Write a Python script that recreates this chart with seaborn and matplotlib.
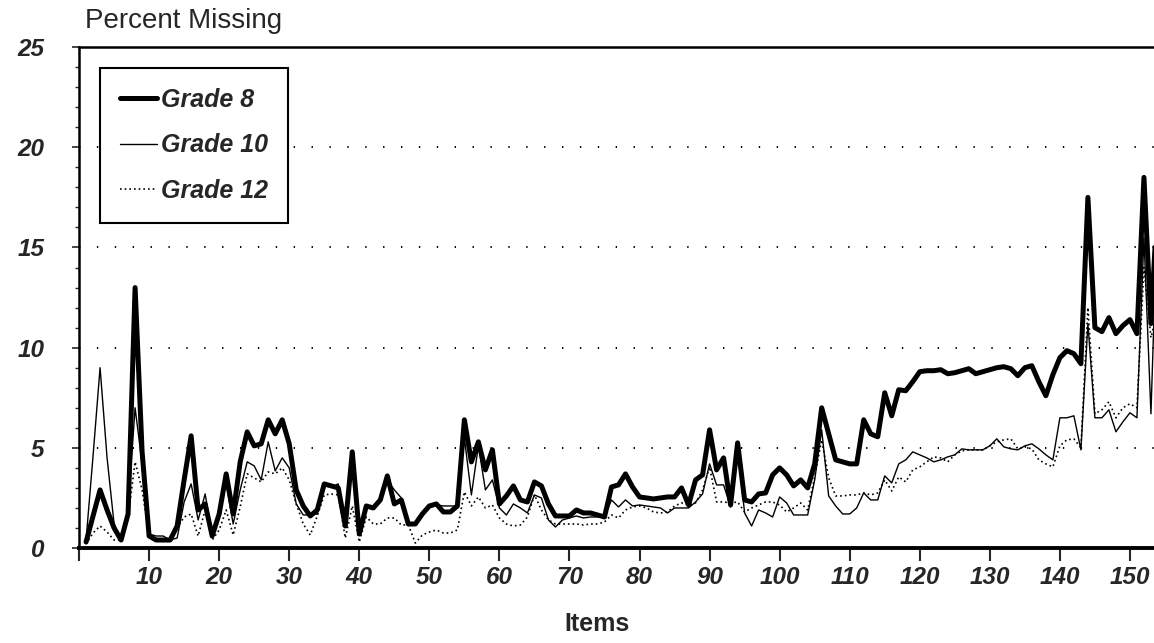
import numpy as np
import pandas as pd
import matplotlib
matplotlib.use("Agg")
import matplotlib.pyplot as plt
import seaborn as sns

# Percent missing per item
items = list(range(1, 155))

grade8 = [0.3, 1.6, 2.9, 1.9, 1.0, 0.4, 1.7, 13.0, 4.8, 0.6,
          0.4, 0.4, 0.4, 1.1, 3.4, 5.6, 1.9, 2.2, 0.6, 1.7,
          3.7, 1.7, 4.3, 5.8, 5.1, 5.2, 6.4, 5.7, 6.4, 5.2,
          2.9, 2.1, 1.6, 1.9, 3.2, 3.1, 3.0, 1.1, 4.8, 0.7,
          2.1, 2.0, 2.4, 3.6, 2.2, 2.4, 1.2, 1.2, 1.7, 2.1,
          2.2, 1.8, 1.8, 2.1, 6.4, 4.3, 5.3, 3.9, 4.9, 2.2,
          2.6, 3.1, 2.4, 2.3, 3.3, 3.1, 2.2, 1.6, 1.6, 1.6,
          1.9, 1.75, 1.75, 1.65, 1.55, 3.05, 3.15, 3.7, 3.05, 2.55,
          2.5, 2.45, 2.5, 2.55, 2.55, 3.0, 2.15, 3.4, 3.65, 5.9,
          3.9, 4.5, 2.15, 5.25, 2.4, 2.3, 2.7, 2.75, 3.65, 4.0,
          3.65, 3.1, 3.4, 3.0, 4.2, 7.0, 5.7, 4.4, 4.3, 4.2,
          4.2, 6.4, 5.7, 5.55, 7.75, 6.6, 7.9, 7.85, 8.3, 8.8,
          8.85, 8.85, 8.9, 8.7, 8.75, 8.85, 8.95, 8.7, 8.8, 8.9,
          9.0, 9.05, 8.95, 8.6, 9.0, 9.1, 8.3, 7.6, 8.65, 9.5,
          9.85, 9.7, 9.2, 17.5, 11.0, 10.8, 11.5, 10.7, 11.1, 11.4,
          10.7, 18.5, 11.2, 17.8]

grade10 = [0.4, 4.6, 9.0, 4.5, 1.2, 0.4, 2.0, 7.0, 4.2, 0.7,
           0.6, 0.6, 0.4, 0.5, 2.3, 3.2, 1.4, 2.7, 0.65, 1.9,
           3.2, 1.2, 2.9, 4.3, 4.1, 3.4, 5.3, 3.85, 4.5, 4.0,
           2.2, 1.65, 1.65, 1.7, 3.1, 3.05, 3.2, 1.2, 4.4, 1.1,
           2.1, 2.0, 2.3, 3.4, 2.9, 2.5, 1.2, 1.2, 1.65, 2.0,
           2.15, 2.1, 2.1, 2.1, 5.5, 2.65, 5.1, 2.9, 3.4, 2.0,
           1.65, 2.2, 2.0, 1.75, 2.65, 2.5, 1.4, 1.05, 1.4, 1.5,
           1.6, 1.5, 1.55, 1.55, 1.55, 2.4, 2.05, 2.4, 2.1, 2.15,
           2.1, 2.05, 2.0, 1.75, 2.0, 2.0, 2.0, 2.3, 2.7, 4.2,
           3.15, 3.15, 2.05, 5.0, 1.75, 1.1, 1.9, 1.75, 1.55, 2.55,
           2.25, 1.65, 1.65, 1.65, 3.4, 5.9, 2.6, 2.1, 1.7, 1.7,
           2.0, 2.75, 2.4, 2.4, 3.6, 3.25, 4.2, 4.4, 4.8, 4.65,
           4.5, 4.3, 4.4, 4.55, 4.65, 4.95, 4.9, 4.9, 4.9, 5.1,
           5.45, 5.05, 4.95, 4.9, 5.1, 5.2, 4.95, 4.65, 4.4, 6.5,
           6.5, 6.6, 4.9, 11.2, 6.5, 6.5, 6.9, 5.8, 6.3, 6.75,
           6.5, 15.5, 6.7, 17.8]

grade12 = [0.2, 0.75, 1.1, 0.8, 0.4, 0.4, 1.5, 4.3, 2.9, 0.6,
           0.4, 0.4, 0.3, 1.0, 1.55, 1.7, 0.6, 1.9, 0.4, 0.9,
           1.9, 0.65, 2.05, 3.7, 3.5, 3.3, 3.8, 3.7, 4.0, 3.4,
           2.2, 1.2, 0.65, 1.6, 2.65, 2.7, 2.65, 0.5, 2.1, 0.3,
           1.55, 1.2, 1.2, 1.5, 1.5, 1.15, 1.15, 0.25, 0.65, 0.8,
           0.9, 0.75, 0.75, 0.9, 2.8, 2.1, 2.55, 2.0, 2.15, 1.5,
           1.2, 1.1, 1.15, 1.55, 2.65, 1.9, 1.4, 1.2, 1.2, 1.2,
           1.2, 1.15, 1.2, 1.2, 1.3, 1.65, 1.5, 1.9, 2.05, 2.1,
           2.0, 1.8, 1.75, 1.8, 2.1, 2.25, 2.15, 2.25, 2.9, 4.05,
           2.3, 2.3, 2.25, 2.3, 1.8, 2.0, 2.15, 2.3, 2.3, 2.15,
           1.8, 2.0, 2.25, 1.9, 3.55, 5.4, 3.5, 2.6, 2.6, 2.65,
           2.65, 2.75, 2.65, 2.75, 3.4, 2.85, 3.55, 3.3, 3.9, 4.05,
           4.3, 4.55, 4.5, 4.3, 4.65, 4.85, 4.9, 4.9, 4.9, 5.1,
           5.3, 5.4, 5.45, 4.95, 5.05, 4.95, 4.4, 4.2, 4.05, 5.1,
           5.4, 5.45, 5.0, 12.0, 6.7, 6.9, 7.3, 6.5, 7.0, 7.2,
           7.0, 14.0, 10.5, 12.0]

x_ticks = list(range(0, 160, 10))
x_tick_labels = [""] + [str(t) for t in x_ticks[1:]]
y_ticks = [0, 5, 10, 15, 20, 25]

sns.set_style("ticks")
plt.rcParams["font.family"] = ["Liberation Sans", "DejaVu Sans"]

fig = plt.figure(figsize=(11.54, 6.43), dpi=100)
# axes run past the right edge of the figure, like the cropped scan
ax = fig.add_axes([0.0685, 0.1477, 0.941, 0.779])

series = [
    ("Grade 8", grade8, 3.6, "-"),
    ("Grade 10", grade10, 1.0, "-"),
    ("Grade 12", grade12, 1.2, (0, (1, 1.8))),
]
for name, vals, lw, ls in series:
    sns.lineplot(x=items, y=vals, ax=ax, color="black", linewidth=lw,
                 linestyle=ls, label=name, zorder=3)

# dotted reference lines
for yv in [5, 10, 15, 20]:
    ax.axhline(yv, color="black", lw=1.4, ls=(0, (0.7, 8.5)), zorder=1)

ax.set_xlim(0, 155)
ax.set_ylim(0, 25)
ax.set_xticks(x_ticks)
ax.set_xticklabels(x_tick_labels)
ax.set_yticks(y_ticks)
ax.set_yticks(range(0, 26), minor=True)

for lab in ax.get_xticklabels() + ax.get_yticklabels():
    lab.set_fontsize(17.5)
    lab.set_fontweight("bold")
    lab.set_fontstyle("italic")

ax.tick_params(axis="x", which="major", direction="out", length=9, width=1.5, pad=4)
ax.tick_params(axis="y", which="major", direction="out", length=5, width=1.2, pad=20)
ax.tick_params(axis="y", which="minor", direction="out", length=3, width=1.0)

ax.spines["left"].set_linewidth(1.8)
ax.spines["bottom"].set_linewidth(2.8)
ax.spines["top"].set_linewidth(1.8)
ax.spines["right"].set_linewidth(1.8)
for s in ax.spines.values():
    s.set_color("black")

ax.set_ylabel("")
ax.set_xlabel("Items", fontsize=18, fontweight="bold")
ax.xaxis.set_label_coords(0.477, -0.128)

leg = ax.legend(loc="upper left", bbox_to_anchor=(0.019, 0.958), borderaxespad=0,
                frameon=True, fancybox=False, handlelength=1.5, handletextpad=0.15,
                labelspacing=0.85, borderpad=0.8,
                prop={"size": 18, "style": "italic", "weight": "bold"})
leg.get_frame().set_edgecolor("black")
leg.get_frame().set_linewidth(1.5)
leg.get_frame().set_alpha(1)
leg.set_zorder(5)

fig.text(0.074, 0.968, "Percent Missing", fontsize=20, va="center", ha="left")

fig.savefig("out.png", dpi=100, facecolor="white")
